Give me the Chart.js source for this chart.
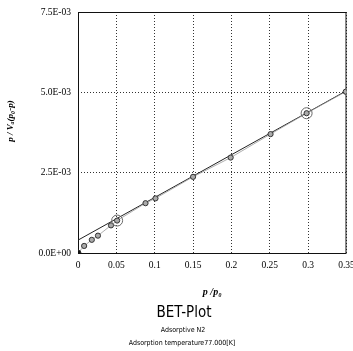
<!DOCTYPE html>
<html>
<head>
<meta charset="utf-8">
<script src="https://cdn.jsdelivr.net/npm/chart.js@4.4.0/dist/chart.umd.min.js"></script>
<style>
html,body{margin:0;padding:0;background:#fff;}
canvas{display:block;}
</style>
</head>
<body>
<canvas id="c" width="353" height="351"></canvas>
<script>
// ---- data ----
const relPressure = [0, 0.008, 0.018, 0.026, 0.043, 0.051, 0.088, 0.101, 0.150, 0.199, 0.251, 0.298, 0.349];
const betValue   = [0, 0.00022, 0.00041, 0.00054, 0.00086, 0.00101, 0.00155, 0.00170, 0.00237, 0.00297, 0.00370, 0.00435, 0.00502];
const highlighted = [5, 11];               // indices of circled points
const fitX = [0, 0.35];
const fitY = [0.00040, 0.00505];
const xTicks = [0, 0.05, 0.1, 0.15, 0.2, 0.25, 0.3, 0.35];
const xTickLabels = ['0', '0.05', '0.1', '0.15', '0.2', '0.25', '0.3', '0.35'];
const yTicks = [0, 0.0025, 0.005, 0.0075];
const yTickLabels = ['0.0E+00', '2.5E-03', '5.0E-03', '7.5E-03'];
const titleText = 'BET-Plot';
const subLines = ['Adsorptive N2', 'Adsorption temperature77.000[K]'];
const xTitle = 'p /p\u2080';
const yTitle = 'p / V\u2090(p\u2080-p)';

const pts = relPressure.map((x, i) => ({x, y: betValue[i]}));
const hiPts = highlighted.map(i => ({x: relPressure[i], y: betValue[i]}));
const fitPts = fitX.map((x, i) => ({x, y: fitY[i]}));

const serif = '"Liberation Serif", "Times New Roman", serif';
const narrow = '"Liberation Sans Narrow", "DejaVu Sans Condensed", "Liberation Sans", sans-serif';

const decor = {
  id: 'decor',
  beforeDatasetsDraw(chart) {
    const {ctx, chartArea: a} = chart;
    ctx.save();
    ctx.setLineDash([]);
    ctx.strokeStyle = '#111';
    ctx.lineWidth = 1;
    ctx.strokeRect(a.left + 0.5, a.top + 0.5, a.right - a.left - 1, a.bottom - a.top);
    ctx.restore();
  },
  afterDraw(chart) {
    const {ctx} = chart;
    ctx.save();
    ctx.fillStyle = '#000';
    ctx.translate(11, 121);
    ctx.rotate(-Math.PI / 2);
    ctx.textAlign = 'center';
    ctx.textBaseline = 'middle';
    ctx.font = 'italic bold 9px ' + serif;
    ctx.fillText(yTitle, 0, 0);
    ctx.restore();

    ctx.save();
    ctx.fillStyle = '#000';
    ctx.textAlign = 'center';
    ctx.textBaseline = 'middle';
    ctx.font = '15px ' + narrow;
    ctx.fillText(titleText, 184, 313);
    ctx.font = '7px ' + narrow;
    ctx.fillText(subLines[0], 183, 330);
    ctx.fillText(subLines[1], 182, 343);
    ctx.restore();
  }
};

new Chart(document.getElementById('c'), {
  type: 'scatter',
  data: {
    datasets: [
      {
        label: 'fit',
        data: fitPts,
        showLine: true,
        borderColor: '#222',
        borderWidth: 1,
        pointRadius: 0,
        order: 3
      },
      {
        label: 'highlight',
        data: hiPts,
        showLine: false,
        pointRadius: 5.5,
        pointBorderWidth: 1,
        pointBorderColor: '#666',
        pointBackgroundColor: 'rgba(0,0,0,0)',
        order: 1
      },
      {
        label: 'data',
        data: pts,
        showLine: true,
        borderColor: '#999',
        borderWidth: 0.8,
        pointRadius: relPressure.map((x, i) => i === 0 ? 3 : 2.6),
        pointBorderWidth: 1,
        pointBorderColor: '#333',
        pointBackgroundColor: relPressure.map((x, i) => i === 0 ? '#111' : '#aaa'),
        order: 2
      }
    ]
  },
  options: {
    responsive: false,
    devicePixelRatio: 1,
    animation: false,
    layout: {padding: {left: 0, right: 6, top: 12, bottom: 53}},
    plugins: {legend: {display: false}, tooltip: {enabled: false}},
    scales: {
      x: {
        type: 'linear',
        min: 0, max: 0.35,
        afterBuildTicks: s => { s.ticks = xTicks.map(v => ({value: v})); },
        afterFit: s => { s.height = 45; s.paddingLeft = 0; s.paddingRight = 0; },
        ticks: {
          color: '#000',
          font: {family: serif, size: 9.5},
          padding: 7,
          maxRotation: 0,
          autoSkip: false,
          callback: (v, i) => xTickLabels[i]
        },
        grid: {color: '#333', lineWidth: 1, drawTicks: false},
        border: {display: false, dash: [1, 2]},
        title: {
          display: true,
          text: xTitle,
          color: '#000',
          font: {family: serif, size: 10, style: 'italic', weight: 'bold'},
          padding: {top: 12, bottom: 0}
        }
      },
      y: {
        type: 'linear',
        min: 0, max: 0.0075,
        afterBuildTicks: s => { s.ticks = yTicks.map(v => ({value: v})); },
        afterFit: s => { s.width = 78; s.paddingTop = 0; s.paddingBottom = 0; },
        ticks: {
          color: '#000',
          font: {family: serif, size: 9.5},
          padding: 7,
          autoSkip: false,
          callback: (v, i) => yTickLabels[i]
        },
        grid: {color: '#333', lineWidth: 1, drawTicks: false},
        border: {display: false, dash: [1, 2]}
      }
    }
  },
  plugins: [decor]
});
</script>
</body>
</html>
